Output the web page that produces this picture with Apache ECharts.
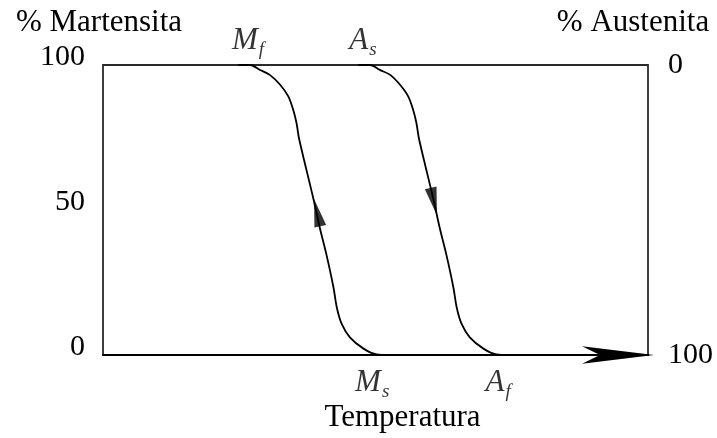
<!DOCTYPE html>
<html lang="es">
<head>
<meta charset="utf-8">
<title>Martensita / Austenita</title>
<script src="https://cdn.jsdelivr.net/npm/echarts@6/dist/echarts.min.js"></script>
<style>
  html, body { margin: 0; padding: 0; background: #fff; }
  #chart { width: 717px; height: 438px; }
</style>
</head>
<body>
<div id="chart"></div>
<script>
// curva de enfriamiento (martensita), temperatura vs % martensita
var martX = [24.8, 27.0, 28.8, 30.6, 32.5, 34.0, 34.9, 35.5, 36.0, 38.6, 39.8, 41.0, 42.3, 42.9, 43.8, 45.3, 47.8, 50.2, 52.7];
var martY = [100, 100, 98.3, 96.6, 93.2, 89.2, 84.6, 80.1, 74.4, 53.9, 43.7, 34.6, 23.2, 16.4, 10.7, 6.1, 2.2, 0.2, 0];
// curva de calentamiento (austenita)
var austX = [46.8, 49.0, 50.8, 52.7, 54.5, 56.0, 56.9, 57.5, 58.0, 60.6, 61.8, 63.0, 64.3, 64.9, 65.8, 67.3, 69.8, 72.2, 74.7];
var austY = [100, 100, 98.3, 96.6, 93.2, 89.2, 84.6, 80.1, 74.4, 53.9, 43.7, 34.6, 23.2, 16.4, 10.7, 6.1, 2.2, 0.2, 0];
// flechas sobre las curvas
var arrowX = [39.3, 60.7];
var arrowY = [49.1, 52.9];
var arrowRot = [13, 193];
// etiquetas de temperaturas
var tempNames = ['M|f', 'A|s', 'M|s', 'A|f'];
var tempX = [26.6, 47.7, 49.4, 72.5];
var tempY = [100, 100, 0, 0];

var serif = 'Liberation Serif';

function pairs(xs, ys) {
  var out = [];
  for (var i = 0; i < xs.length; i++) out.push([xs[i], ys[i]]);
  return out;
}

var arrowData = [];
for (var i = 0; i < arrowX.length; i++) {
  arrowData.push({ value: [arrowX[i], arrowY[i]], symbolRotate: arrowRot[i] });
}

var labelData = [];
for (var j = 0; j < tempNames.length; j++) {
  var parts = tempNames[j].split('|');
  labelData.push({
    value: [tempX[j], tempY[j]],
    label: {
      position: tempY[j] > 50 ? 'top' : 'bottom',
      distance: tempY[j] > 50 ? 6 : 9,
      formatter: '{m|' + parts[0] + '}{s|' + parts[1] + '}'
    }
  });
}

var txt = { fontFamily: serif, fontSize: 31, color: '#000' };

var chart = echarts.init(document.getElementById('chart'));
chart.setOption({
  animation: false,
  backgroundColor: '#fff',
  grid: {
    left: 103, right: 69, top: 65, bottom: 80,
    show: true, borderColor: '#2a2a2a', borderWidth: 1.8
  },
  xAxis: {
    type: 'value', min: 0, max: 100,
    name: 'Temperatura', nameLocation: 'middle', nameGap: 47,
    nameTextStyle: Object.assign({}, txt, { padding: [0, 0, 0, 54] }),
    axisLine: {
      show: true, onZero: false,
      symbol: ['none', 'arrow'], symbolSize: [13, 72], symbolOffset: [0, 6],
      lineStyle: { color: '#000', width: 1.8 }
    },
    axisTick: { show: false }, axisLabel: { show: false }, splitLine: { show: false }
  },
  yAxis: [{
    type: 'value', min: 0, max: 100, interval: 50, position: 'left',
    name: '% Martensita', nameGap: 27,
    nameTextStyle: Object.assign({}, txt, { align: 'center', padding: [0, 8, 0, 0] }),
    axisLine: { show: false }, axisTick: { show: false }, splitLine: { show: false },
    axisLabel: { fontFamily: serif, fontSize: 30, color: '#000', margin: 18, verticalAlign: 'bottom', lineHeight: 16 }
  }, {
    type: 'value', min: 0, max: 100, interval: 100, position: 'right', inverse: true,
    name: '% Austenita', nameLocation: 'start', nameGap: 27,
    nameTextStyle: Object.assign({}, txt, { align: 'center', padding: [0, 30, 0, 0] }),
    axisLine: { show: false }, axisTick: { show: false }, splitLine: { show: false },
    axisLabel: { fontFamily: serif, fontSize: 30, color: '#000', margin: 20 }
  }],
  series: [{
    type: 'line', data: pairs(martX, martY), smooth: 0.3, showSymbol: false,
    lineStyle: { color: '#000', width: 1.8 }
  }, {
    type: 'line', data: pairs(austX, austY), smooth: 0.3, showSymbol: false,
    lineStyle: { color: '#000', width: 1.8 }
  }, {
    type: 'scatter', data: arrowData, symbol: 'triangle', symbolSize: [12, 28],
    itemStyle: { color: '#000' }, z: 5
  }, {
    type: 'scatter', data: labelData, symbolSize: 0, clip: false,
    label: {
      show: true, fontFamily: serif, color: '#000',
      rich: {
        m: { fontSize: 31, fontStyle: 'italic', fontFamily: serif, color: '#000' },
        s: { fontSize: 19, fontStyle: 'italic', fontFamily: serif, color: '#000', verticalAlign: 'bottom', padding: [18, 0, 0, 1] }
      }
    }
  }]
});
</script>
</body>
</html>
